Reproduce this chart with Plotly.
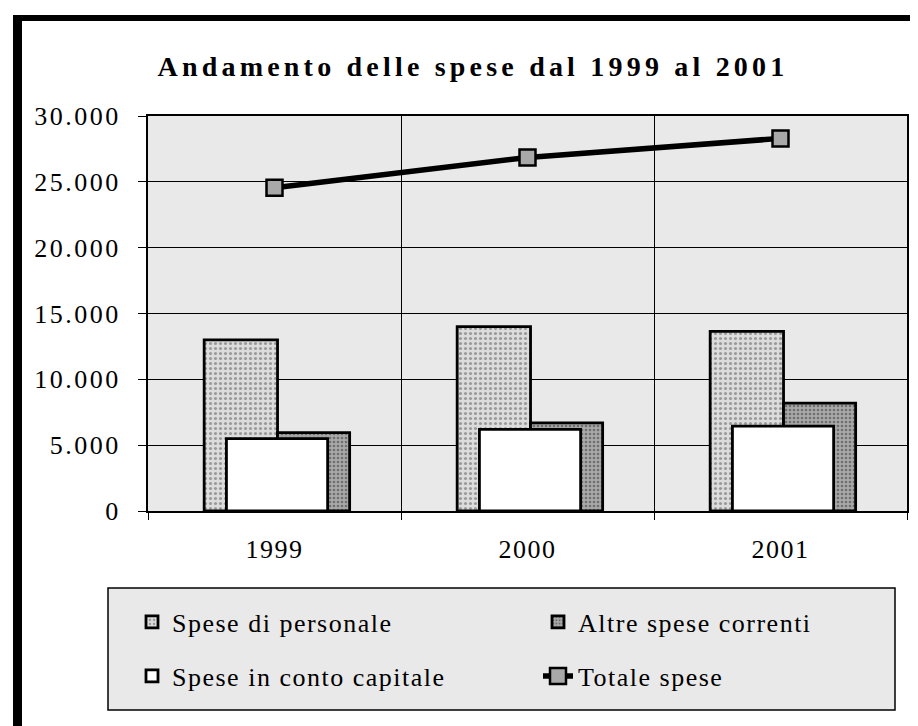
import plotly.graph_objects as go

# ---- data ----
years = ["1999", "2000", "2001"]
spese_personale = [13000, 14000, 13650]
altre_spese_correnti = [5950, 6700, 8200]
spese_conto_capitale = [5500, 6200, 6450]
totale_spese = [24550, 26850, 28300]
y_tick_values = [0, 5000, 10000, 15000, 20000, 25000, 30000]
y_tick_labels = ["0", "5.000", "10.000", "15.000", "20.000", "25.000", "30.000"]

title_text = "Andamento delle spese dal 1999 al 2001"
names = ["Spese di personale", "Altre spese correnti",
         "Spese in conto capitale", "Totale spese"]

# ---- layout geometry (pixels) ----
W, H = 918, 726
PL, PR, PT, PB = 140, 899, 108, 503
SERIF = "Liberation Serif, Times New Roman, serif"


def px_x(px):
    return (px - PL) / (PR - PL)


def px_y(py):
    return (PB - py) / (PB - PT)


def spaced(txt, sp):
    return f"<span style='letter-spacing:{sp}px'>{txt}</span>"


fig = go.Figure()

fig.add_trace(go.Bar(
    x=years, y=spese_personale, name=spaced(names[0], 1.5),
    offset=-0.278, width=0.29,
    marker=dict(color="#d6d6d6", line=dict(color="black", width=2.8),
                pattern=dict(shape=".", fgcolor="#555555", bgcolor="#dcdcdc",
                             size=5, solidity=0.3)),
    legend="legend",
))
fig.add_trace(go.Bar(
    x=years, y=altre_spese_correnti, name=spaced(names[1], 1.5),
    offset=0.012, width=0.285,
    marker=dict(color="#9c9c9c", line=dict(color="black", width=2.8),
                pattern=dict(shape=".", fgcolor="#333333", bgcolor="#a8a8a8",
                             size=4, solidity=0.35)),
    legend="legend2",
))
fig.add_trace(go.Bar(
    x=years, y=spese_conto_capitale, name=spaced(names[2], 1.5),
    offset=-0.19, width=0.4,
    marker=dict(color="white", line=dict(color="black", width=2.8)),
    legend="legend3",
))
fig.add_trace(go.Scatter(
    x=years, y=totale_spese, name=spaced(names[3], 1.5),
    mode="lines+markers",
    line=dict(color="black", width=5.5),
    marker=dict(symbol="square", size=16, color="#a8a8a8",
                line=dict(color="black", width=2.5)),
    legend="legend4",
))

legend_common = dict(
    orientation="h", xref="container", yref="container",
    xanchor="left", yanchor="middle",
    bgcolor="rgba(0,0,0,0)", borderwidth=0,
    font=dict(family=SERIF, size=26, color="black"),
)
COL1, COL2 = 124, 530
ROW1, ROW2 = 614, 668

shapes = [
    # legend box
    dict(type="rect", xref="paper", yref="paper",
         x0=px_x(100), x1=px_x(887), y0=px_y(702), y1=px_y(580),
         fillcolor="#e9e9e9", line=dict(color="black", width=1.5), layer="below"),
    # outer frame: thick left and top borders
    dict(type="rect", xref="paper", yref="paper",
         x0=px_x(5), x1=px_x(14), y0=px_y(726), y1=px_y(7),
         fillcolor="black", line=dict(width=0)),
    dict(type="rect", xref="paper", yref="paper",
         x0=px_x(5), x1=px_x(918), y0=px_y(13), y1=px_y(7),
         fillcolor="black", line=dict(width=0)),
]

fig.update_layout(
    width=W, height=H,
    margin=dict(l=PL, r=W - PR, t=PT, b=H - PB, autoexpand=False),
    paper_bgcolor="white",
    plot_bgcolor="#e9e9e9",
    barmode="overlay",
    showlegend=True,
    title=dict(text=f"<b>{spaced(title_text, 4.2)}</b>",
               xref="container", yref="container",
               x=465 / W, xanchor="center", y=1 - 58 / H, yanchor="middle",
               font=dict(family=SERIF, size=28, color="black")),
    legend=dict(legend_common, x=COL1 / W, y=1 - ROW1 / H),
    legend2=dict(legend_common, x=COL2 / W, y=1 - ROW1 / H),
    legend3=dict(legend_common, x=COL1 / W, y=1 - ROW2 / H),
    legend4=dict(legend_common, x=COL2 / W, y=1 - ROW2 / H),
    shapes=shapes,
    font=dict(family=SERIF, color="black"),
)

fig.update_xaxes(
    type="category", range=[-0.5, 2.5],
    tickvals=years, ticktext=[spaced(y, 1.5) for y in years],
    tickson="boundaries", ticks="outside", ticklen=7, tickcolor="black",
    showgrid=True, gridcolor="black", gridwidth=1,
    showline=True, mirror=True, linecolor="black", linewidth=2,
    tickfont=dict(family=SERIF, size=26, color="black"),
    ticklabelstandoff=14,
)
fig.update_yaxes(
    range=[0, 30000], tickvals=y_tick_values,
    ticktext=[spaced(t, 2.5) for t in y_tick_labels],
    ticks="outside", ticklen=8, tickcolor="black",
    showgrid=True, gridcolor="black", gridwidth=1,
    showline=True, mirror=True, linecolor="black", linewidth=2,
    zeroline=False,
    tickfont=dict(family=SERIF, size=26, color="black"),
    ticklabelstandoff=12,
)

fig.write_html("out.html")
